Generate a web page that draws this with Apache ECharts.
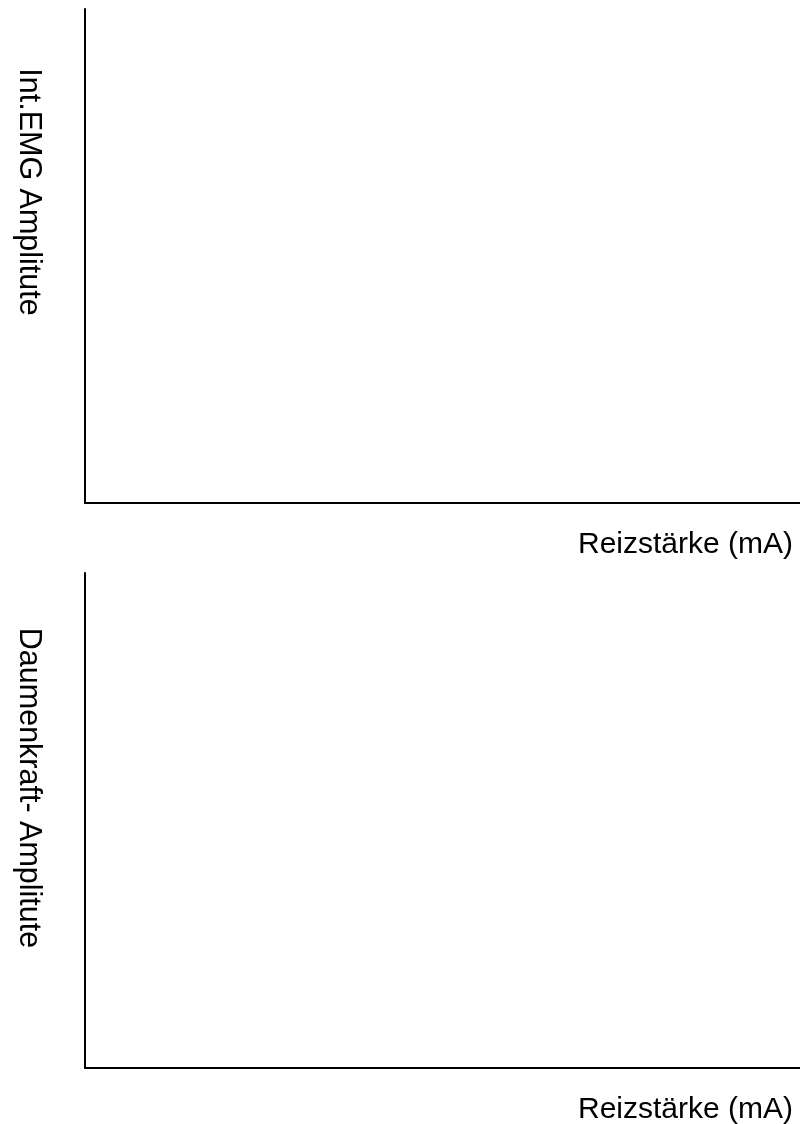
<!DOCTYPE html>
<html>
<head>
<meta charset="utf-8">
<title>Reizstärke</title>
<script src="https://cdn.jsdelivr.net/npm/echarts@6/dist/echarts.min.js"></script>
<style>
  html, body { margin: 0; padding: 0; background: #fff; }
  #chart { width: 800px; height: 1124px; }
</style>
</head>
<body>
<div id="chart"></div>
<script>
// Axis texts
const xAxisTitle = 'Reizstärke (mA)';
const yAxisTitles = ['Int.EMG Amplitute', 'Daumenkraft- Amplitute'];

// Axis ranges (blank worksheet: no ticks, no values)
const stimulusRange = [0, 10];
const emgRange = [0, 10];
const forceRange = [0, 10];

// Measured points — left empty, to be filled in by hand
const emgValues = [];
const forceValues = [];

const FONT = '"Liberation Sans", Arial, Helvetica, sans-serif';
const axisStyle = { show: true, lineStyle: { color: '#000', width: 2 } };

function valueAxis(gridIndex, range) {
  return {
    type: 'value',
    gridIndex: gridIndex,
    min: range[0],
    max: range[1],
    axisLine: axisStyle,
    axisTick: { show: false },
    axisLabel: { show: false },
    splitLine: { show: false }
  };
}

const chart = echarts.init(document.getElementById('chart'), null, { renderer: 'canvas' });

const xTitleStyle = { fill: '#000', font: '30px ' + FONT, align: 'right', verticalAlign: 'middle' };
const yTitleStyle = { fill: '#000', font: '30.5px ' + FONT, align: 'center', verticalAlign: 'middle' };

chart.setOption({
  backgroundColor: '#fff',
  animation: false,
  grid: [
    { left: 85, top: 9, right: 0, height: 494 },
    { left: 85, top: 573, right: 0, height: 495 }
  ],
  xAxis: [valueAxis(0, stimulusRange), valueAxis(1, stimulusRange)],
  yAxis: [valueAxis(0, emgRange), valueAxis(1, forceRange)],
  series: [
    { type: 'line', xAxisIndex: 0, yAxisIndex: 0, data: emgValues, showSymbol: true },
    { type: 'line', xAxisIndex: 1, yAxisIndex: 1, data: forceValues, showSymbol: true }
  ],
  graphic: [
    { type: 'text', x: 793, y: 545, style: Object.assign({ text: xAxisTitle }, xTitleStyle) },
    { type: 'text', x: 793, y: 1110, style: Object.assign({ text: xAxisTitle }, xTitleStyle) },
    { type: 'text', x: 28, y: 192, rotation: -Math.PI / 2, style: Object.assign({ text: yAxisTitles[0] }, yTitleStyle) },
    { type: 'text', x: 28, y: 788, rotation: -Math.PI / 2, style: Object.assign({ text: yAxisTitles[1] }, yTitleStyle) }
  ]
});
</script>
</body>
</html>
